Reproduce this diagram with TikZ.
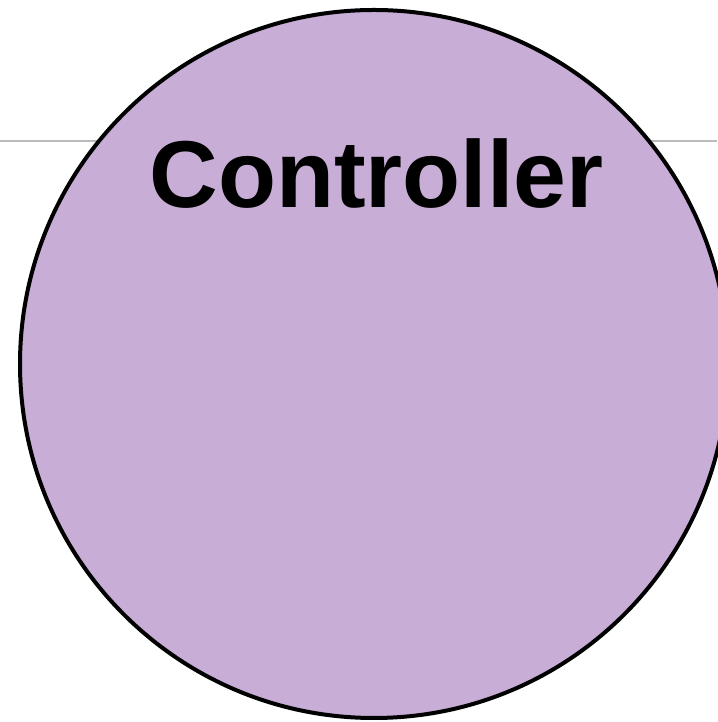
\documentclass[tikz,border=0pt]{standalone}
\usepackage{fontspec}
\setmainfont{Liberation Sans}
\definecolor{ctrlfill}{HTML}{C8ADD6}
\definecolor{rulegray}{HTML}{BBBBBB}
\begin{document}
\begin{tikzpicture}[x=1pt,y=1pt,
  ctrl/.style={circle,draw=black,line width=4pt,fill=ctrlfill,minimum size=708pt,inner sep=0pt},
  lbl/.style={font=\fontsize{95}{95}\selectfont\bfseries,anchor=base,inner sep=0pt}]
\useasboundingbox (0,0) rectangle (717,722);
\coordinate (l) at (0,581);
\coordinate (r) at (717,581);
\draw[rulegray,line width=2pt] (l) -- (r);
\node[ctrl] (c) at (374,358) {};
\node[lbl] (t) at (376.5,514) {Controller};
\end{tikzpicture}
\end{document}
